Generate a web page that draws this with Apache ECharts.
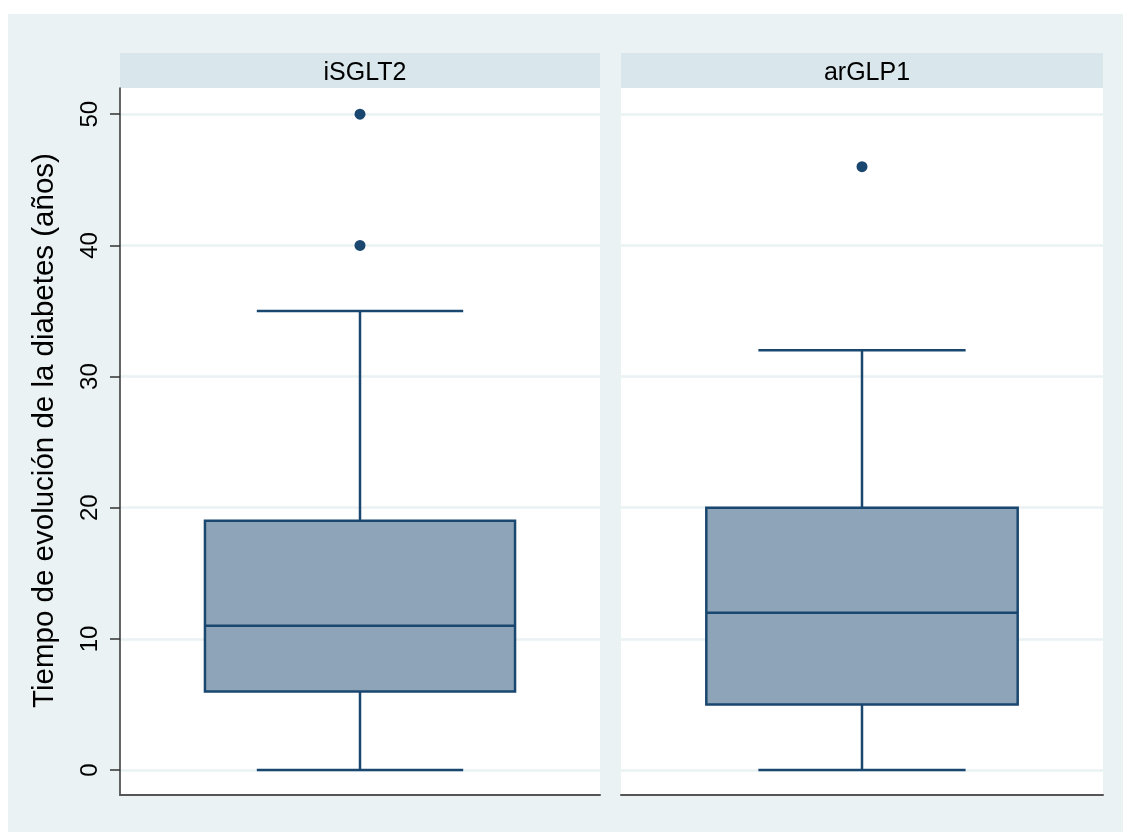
<!DOCTYPE html>
<html>
<head>
<meta charset="utf-8">
<title>Tiempo de evolución de la diabetes</title>
<script src="https://cdn.jsdelivr.net/npm/echarts@6/dist/echarts.min.js"></script>
<style>
  html, body { margin: 0; padding: 0; background: #ffffff; }
  #chart { width: 1131px; height: 832px; }
</style>
</head>
<body>
<div id="chart"></div>
<script>
// Groups (one panel each)
const groups = ['iSGLT2', 'arGLP1'];

// Box summaries per group: [min, Q1, median, Q3, upper whisker]
const boxStats = [
  [0, 6, 11, 19, 35],
  [0, 5, 12, 20, 32]
];

// Outlying values per group
const outliers = [
  [40, 50],
  [46]
];

// Y axis tick values
const yTicks = [0, 10, 20, 30, 40, 50];

const NAVY = '#1a476f';
const BOX_FILL = '#8ea5b9';
const BG = '#eaf2f3';
const STRIP = '#d9e6eb';
const BOX_FRAC = 0.646;   // box width as share of the panel
const CAP_FRAC = 0.43;    // whisker cap width as share of the panel
const FONT = 'Liberation Sans, Arial, sans-serif';

const panels = [
  { left: 120, width: 480 },
  { left: 621, width: 482 }
];
const TOP = 88, BOTTOM_Y = 795;

function renderBox(params, api) {
  const cat = api.value(0);
  const band = api.size([1, 0])[0];
  const bw = band * BOX_FRAC;
  const cw = band * CAP_FRAC;
  const pMin = api.coord([cat, api.value(1)]);
  const pQ1 = api.coord([cat, api.value(2)]);
  const pMed = api.coord([cat, api.value(3)]);
  const pQ3 = api.coord([cat, api.value(4)]);
  const pMax = api.coord([cat, api.value(5)]);
  const cx = pMed[0];
  const lineStyle = { stroke: NAVY, lineWidth: 2.5, fill: null };
  return {
    type: 'group',
    children: [
      { type: 'line', shape: { x1: cx, y1: pQ3[1], x2: cx, y2: pMax[1] }, style: lineStyle },
      { type: 'line', shape: { x1: cx, y1: pQ1[1], x2: cx, y2: pMin[1] }, style: lineStyle },
      { type: 'line', shape: { x1: cx - cw / 2, y1: pMax[1], x2: cx + cw / 2, y2: pMax[1] }, style: lineStyle },
      { type: 'line', shape: { x1: cx - cw / 2, y1: pMin[1], x2: cx + cw / 2, y2: pMin[1] }, style: lineStyle },
      { type: 'rect', shape: { x: cx - bw / 2, y: pQ3[1], width: bw, height: pQ1[1] - pQ3[1] },
        style: { fill: BOX_FILL, stroke: NAVY, lineWidth: 2.5 } },
      { type: 'line', shape: { x1: cx - bw / 2, y1: pMed[1], x2: cx + bw / 2, y2: pMed[1] }, style: lineStyle }
    ]
  };
}

const grids = panels.map(p => ({
  left: p.left, width: p.width, top: TOP, height: BOTTOM_Y - TOP,
  show: true, backgroundColor: '#ffffff', borderWidth: 0
}));

const xAxes = groups.map((g, i) => ({
  type: 'category', gridIndex: i, data: [g],
  boundaryGap: true, position: 'bottom',
  axisLine: { show: true, onZero: false, lineStyle: { color: '#555555', width: 2 } },
  axisTick: { show: false }, axisLabel: { show: false }, splitLine: { show: false }
}));

const yAxes = groups.map((g, i) => ({
  type: 'value', gridIndex: i, min: -1.9, max: 52,
  name: i === 0 ? 'Tiempo de evolución de la diabetes (años)' : '',
  nameLocation: 'middle', nameGap: 60, nameRotate: 90,
  nameTextStyle: { fontFamily: FONT, fontSize: 29.5, color: '#000', padding: [0, 0, 0, 22] },
  axisLine: { show: i === 0, onZero: false, lineStyle: { color: '#333333', width: 1.5 } },
  axisTick: { show: i === 0, length: 10, customValues: yTicks, lineStyle: { color: '#333333', width: 1.5 } },
  axisLabel: { show: i === 0, customValues: yTicks, rotate: 90, margin: 18,
    fontFamily: FONT, fontSize: 24, color: '#000' },
  splitLine: { show: true, lineStyle: { color: BG, width: 2.5 } }
}));

const series = [];
groups.forEach((g, i) => {
  series.push({
    type: 'custom', xAxisIndex: i, yAxisIndex: i,
    renderItem: renderBox,
    encode: { x: 0, y: [1, 2, 3, 4, 5] },
    data: [[0].concat(boxStats[i])],
    z: 3
  });
  series.push({
    type: 'scatter', xAxisIndex: i, yAxisIndex: i,
    symbol: 'circle', symbolSize: 11,
    itemStyle: { color: NAVY, opacity: 1 },
    data: outliers[i].map(v => [0, v]),
    z: 4
  });
});

const titles = groups.map((g, i) => ({
  text: g,
  left: panels[i].left + panels[i].width / 2,
  top: 56,
  textAlign: 'center',
  textStyle: { fontFamily: FONT, fontSize: 25, fontWeight: 'normal', color: '#000' }
}));

const option = {
  backgroundColor: '#ffffff',
  animation: false,
  graphic: [
    { type: 'rect', z: -10, shape: { x: 8, y: 14, width: 1115, height: 818 }, style: { fill: BG } },
    ...panels.map(p => ({ type: 'rect', z: -9, shape: { x: p.left, y: 53, width: p.width, height: TOP - 53 }, style: { fill: STRIP } }))
  ],
  title: titles,
  grid: grids,
  xAxis: xAxes,
  yAxis: yAxes,
  series: series
};

const chart = echarts.init(document.getElementById('chart'), null, { renderer: 'canvas' });
chart.setOption(option);
</script>
</body>
</html>
